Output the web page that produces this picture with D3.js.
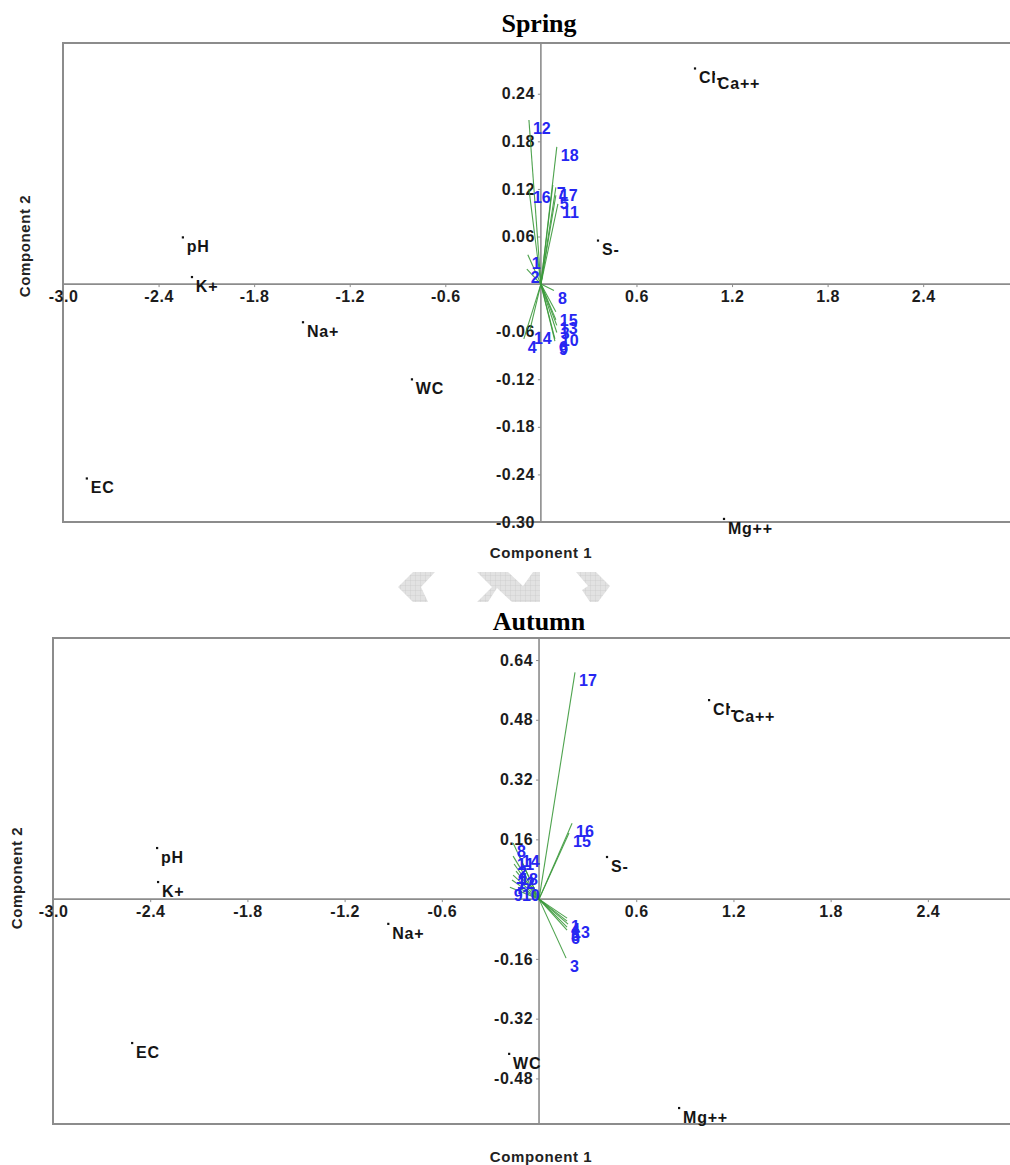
<!DOCTYPE html>
<html>
<head>
<meta charset="utf-8">
<script src="https://cdn.jsdelivr.net/npm/d3@7"></script>
<style>
    body { margin: 0; background: #ffffff; }
    text { font-family: "Liberation Sans", Arial, sans-serif; }
</style>
</head>
<body>
<div id="data-viz"></div>
<script>

// variables (loadings, shown as dots)
const varNames = ["pH", "K+", "Na+", "WC", "EC", "S-", "Cl-", "Ca++", "Mg++"]

const springVarPC1 = [-2.248, -2.191, -1.494, -0.810, -2.851, 0.358, 0.967, 1.086, 1.149]
const springVarPC2 = [0.059, 0.009, -0.048, -0.120, -0.245, 0.055, 0.272, 0.265, -0.296]

const autumnVarPC1 = [-2.358, -2.352, -0.931, -0.185, -2.512, 0.419, 1.049, 1.172, 0.864]
const autumnVarPC2 = [0.137, 0.046, -0.066, -0.414, -0.385, 0.113, 0.533, 0.514, -0.559]

// samples (shown as green vectors)
const sampleIds = ["1", "2", "3", "4", "5", "6", "7", "8", "9", "10", "11", "12", "13", "14", "15", "16", "17", "18"]

const springSamplePC1 = [-0.082, -0.088, 0.100, -0.107, 0.094, 0.088, 0.075, 0.082, 0.088, 0.100, 0.107, -0.075, 0.094, -0.069, 0.094, -0.075, 0.094, 0.100]
const springSamplePC2 = [0.037, 0.019, -0.052, -0.069, 0.112, -0.069, 0.125, -0.008, -0.072, -0.061, 0.101, 0.207, -0.045, -0.058, -0.035, 0.120, 0.122, 0.173]

const autumnSamplePC1 = [0.173, -0.154, 0.167, 0.173, 0.173, 0.173, -0.167, -0.160, -0.180, -0.130, -0.160, -0.160, 0.179, -0.130, 0.185, 0.204, 0.222, -0.142]
const autumnSamplePC2 = [-0.051, 0.094, -0.158, -0.059, -0.075, -0.083, 0.051, 0.150, 0.032, 0.032, 0.115, 0.064, -0.067, 0.123, 0.177, 0.203, 0.607, 0.075]

const xTicks = [-3.0, -2.4, -1.8, -1.2, -0.6, 0.6, 1.2, 1.8, 2.4]
const springYTicks = [0.24, 0.18, 0.12, 0.06, -0.06, -0.12, -0.18, -0.24, -0.30]
const autumnYTicks = [0.64, 0.48, 0.32, 0.16, -0.16, -0.32, -0.48]

const width = 1010
const height = 1165

// plain hyphen for negatives, like the original
const locale = d3.formatLocale({ decimal: ".", thousands: ",", grouping: [3], currency: ["", ""], minus: "-" })

const svg = d3.select("#data-viz").append("svg")
    .attr("width", width)
    .attr("height", height)

svg.append("rect")
    .attr("width", width)
    .attr("height", height)
    .attr("fill", "#ffffff")

const panels = [
    {
        title: "Spring",
        titleY: 32,
        left: 63, top: 43, bottom: 522,
        xDomain: [-3, 2.945], yDomain: [-0.30, 0.304],
        yTicks: springYTicks,
        varX: springVarPC1, varY: springVarPC2,
        sampleX: springSamplePC1, sampleY: springSamplePC2,
        xTitleY: 558, yTitleX: 30, yTitleY: 246
    },
    {
        title: "Autumn",
        titleY: 630,
        left: 53, top: 638, bottom: 1124,
        xDomain: [-3, 2.907], yDomain: [-0.602, 0.699],
        yTicks: autumnYTicks,
        varX: autumnVarPC1, varY: autumnVarPC2,
        sampleX: autumnSamplePC1, sampleY: autumnSamplePC2,
        xTitleY: 1162, yTitleX: 22, yTitleY: 878
    }
]

const axisGrey = "#8c8c8c"

function drawPanel(p) {

    var g = svg.append("g")

    var x = d3.scaleLinear().domain(p.xDomain).range([p.left, width])

    var y = d3.scaleLinear().domain(p.yDomain).range([p.bottom, p.top])

    var x0 = x(0)

    var y0 = y(0)

    // frame: top, left, bottom (right side runs off the picture)
    g.append("path")
        .attr("d", `M${width},${p.top}H${p.left}V${p.bottom}H${width}`)
        .attr("fill", "none")
        .attr("stroke", axisGrey)
        .attr("stroke-width", 2)

    // zero lines
    g.append("line")
        .attr("x1", p.left).attr("x2", width)
        .attr("y1", y0).attr("y2", y0)
        .attr("stroke", axisGrey)
        .attr("stroke-width", 1.6)

    g.append("line")
        .attr("x1", x0).attr("x2", x0)
        .attr("y1", p.top).attr("y2", p.bottom)
        .attr("stroke", axisGrey)
        .attr("stroke-width", 1.6)

    // ticks sit on the zero lines
    var xAxis = d3.axisBottom(x)
        .tickValues(xTicks)
        .tickFormat(locale.format(".1f"))
        .tickSize(3)
        .tickPadding(4)

    var yAxis = d3.axisLeft(y)
        .tickValues(p.yTicks)
        .tickFormat(locale.format(".2f"))
        .tickSize(3)
        .tickPadding(3)

    var gx = g.append("g")
        .attr("transform", `translate(0,${y0})`)
        .call(xAxis)

    var gy = g.append("g")
        .attr("transform", `translate(${x0},0)`)
        .call(yAxis)

    ;[gx, gy].forEach(function(a) {
        a.select(".domain").remove()
        a.selectAll(".tick line").attr("stroke", axisGrey)
        a.selectAll(".tick text")
            .attr("fill", "#1c1c1c")
            .style("font-size", "16px")
            .style("font-weight", "bold")
            .style("letter-spacing", "0.5px")
            .style("font-family", "'Liberation Sans', Arial, sans-serif")
    })

    // sample vectors
    var samples = sampleIds.map(function(id, i) {
        return { id: id, pc1: p.sampleX[i], pc2: p.sampleY[i] }
    })

    g.append("g").selectAll("line")
        .data(samples)
        .join("line")
        .attr("x1", x0)
        .attr("y1", y0)
        .attr("x2", d => x(d.pc1))
        .attr("y2", d => y(d.pc2))
        .attr("stroke", "#3c9a3c")
        .attr("stroke-width", 1.1)
        .attr("opacity", 0.9)

    g.append("g").selectAll("text")
        .data(samples)
        .join("text")
        .attr("x", d => x(d.pc1) + 4)
        .attr("y", d => y(d.pc2) + 14)
        .attr("fill", "#2626f2")
        .style("font-size", "16px")
        .style("font-weight", "bold")
        .text(d => d.id)

    // variable points
    var vars = varNames.map(function(name, i) {
        return { name: name, pc1: p.varX[i], pc2: p.varY[i] }
    })

    g.append("g").selectAll("rect")
        .data(vars)
        .join("rect")
        .attr("x", d => x(d.pc1) - 1)
        .attr("y", d => y(d.pc2) - 1)
        .attr("width", 2.2)
        .attr("height", 2.2)
        .attr("fill", "#111111")

    g.append("g").selectAll("text")
        .data(vars)
        .join("text")
        .attr("x", d => x(d.pc1) + 4)
        .attr("y", d => y(d.pc2) + 15)
        .attr("fill", "#151515")
        .style("font-size", "16px")
        .style("font-weight", "bold")
        .style("letter-spacing", "0.8px")
        .text(d => d.name)

    // titles
    g.append("text")
        .attr("x", 539)
        .attr("y", p.titleY)
        .attr("text-anchor", "middle")
        .style("font-family", "'Liberation Serif', 'Times New Roman', serif")
        .style("font-size", "26px")
        .style("font-weight", "bold")
        .text(p.title)

    g.append("text")
        .attr("x", 541)
        .attr("y", p.xTitleY)
        .attr("text-anchor", "middle")
        .attr("fill", "#222222")
        .style("font-size", "15px")
        .style("font-weight", "bold")
        .style("letter-spacing", "0.6px")
        .text("Component 1")

    g.append("text")
        .attr("transform", `translate(${p.yTitleX},${p.yTitleY}) rotate(-90)`)
        .attr("text-anchor", "middle")
        .attr("fill", "#222222")
        .style("font-size", "15px")
        .style("font-weight", "bold")
        .style("letter-spacing", "0.6px")
        .text("Component 2")

}

panels.forEach(drawPanel)

// faint hatched ornament between the two panels
var defs = svg.append("defs")

var pat = defs.append("pattern")
    .attr("id", "hatch")
    .attr("width", 5)
    .attr("height", 5)
    .attr("patternUnits", "userSpaceOnUse")

pat.append("rect").attr("width", 5).attr("height", 5).attr("fill", "#e2e2e2")

pat.append("path")
    .attr("d", "M0,0H5M0,0V5")
    .attr("stroke", "#c8c8c8")
    .attr("stroke-width", 0.7)

var ornament = [
    "M413,572H435L421,587L428,602H413L398,587Z",
    "M477,572H508L523,586L533,572H540L540,602H512L497,588L488,602H477L492,587Z",
    "M576,572H596L610,586L598,602H590L582,590L588,586Z"
]

svg.append("g").selectAll("path")
    .data(ornament)
    .join("path")
    .attr("d", d => d)
    .attr("fill", "url(#hatch)")

</script>
</body>
</html>
